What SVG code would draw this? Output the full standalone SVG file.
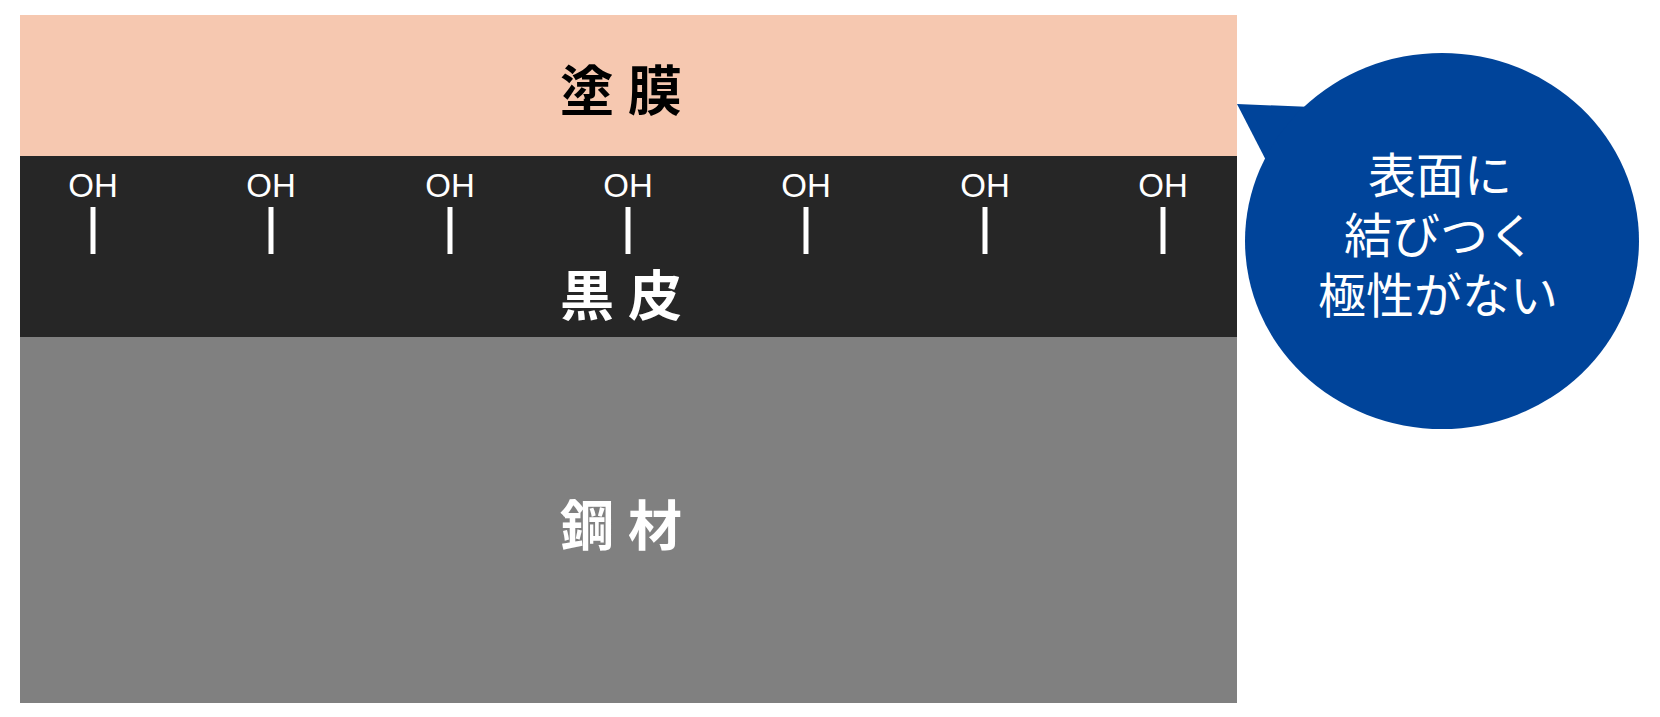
<svg xmlns="http://www.w3.org/2000/svg" width="1660" height="717" viewBox="0 0 1660 717">
<style>
.layer-label{font-family:"Noto Sans CJK JP","Noto Sans CJK SC",sans-serif;font-weight:bold;font-size:54px;letter-spacing:14px;text-anchor:middle}
.oh{font-family:"Liberation Sans",Arial,sans-serif;font-size:33px;fill:#ffffff;text-anchor:middle}
.bond{stroke:#ffffff;stroke-width:5}
.bubble-text{font-family:"Noto Sans CJK JP","Noto Sans CJK SC",sans-serif;font-size:48px;fill:#ffffff;text-anchor:middle}
</style>
<rect width="1660" height="717" fill="#ffffff"/>
<g id="coating">
<rect x="20" y="15" width="1217" height="141" fill="#F6C8B0"/>
<text class="layer-label" x="628" y="111" fill="#000000">塗膜</text>
</g>
<g id="mill-scale">
<rect x="20" y="156" width="1217" height="181" fill="#262626"/>
<text class="layer-label" x="628" y="316" fill="#ffffff">黒皮</text>
</g>
<g id="steel">
<rect x="20" y="337" width="1217" height="366" fill="#808080"/>
<text class="layer-label" x="628" y="546" fill="#ffffff">鋼材</text>
</g>
<g id="oh-groups">
<text class="oh" x="93" y="197">OH</text>
<text class="oh" x="271" y="197">OH</text>
<text class="oh" x="450" y="197">OH</text>
<text class="oh" x="628" y="197">OH</text>
<text class="oh" x="806" y="197">OH</text>
<text class="oh" x="985" y="197">OH</text>
<text class="oh" x="1163" y="197">OH</text>
</g>
<g id="connectors">
<line class="bond" x1="93" y1="207" x2="93" y2="254"/>
<line class="bond" x1="271" y1="207" x2="271" y2="254"/>
<line class="bond" x1="450" y1="207" x2="450" y2="254"/>
<line class="bond" x1="628" y1="207" x2="628" y2="254"/>
<line class="bond" x1="806" y1="207" x2="806" y2="254"/>
<line class="bond" x1="985" y1="207" x2="985" y2="254"/>
<line class="bond" x1="1163" y1="207" x2="1163" y2="254"/>
</g>
<g id="callout">
<polygon points="1237,104 1312,107 1272,172" fill="#00449A"/>
<ellipse cx="1442" cy="241" rx="197" ry="188" fill="#00449A"/>
<text class="bubble-text" x="1440" y="193">表面に</text>
<text class="bubble-text" x="1440" y="253">結びつく</text>
<text class="bubble-text" x="1438" y="313">極性がない</text>
</g>
</svg>
